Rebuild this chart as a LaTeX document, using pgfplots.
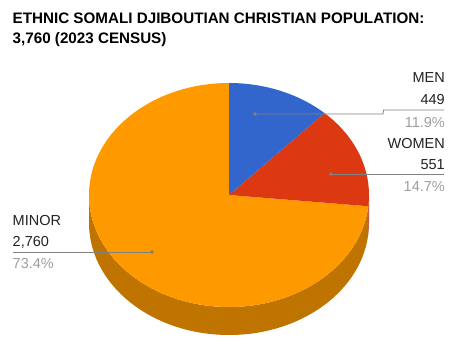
\documentclass[border=0pt]{standalone}
\usepackage{pgfplots}
\pgfplotsset{compat=1.18}
\usepackage{pgfplotstable}
\usepackage{fontspec}
\setmainfont{Liberation Sans}
\definecolor{cblue}{HTML}{3366CC}
\definecolor{cred}{HTML}{DC3912}
\definecolor{credside}{HTML}{A52B0E}
\definecolor{corange}{HTML}{FF9900}
\definecolor{corangeside}{HTML}{C07400}
\definecolor{ctext}{HTML}{222222}
\definecolor{cpct}{HTML}{9E9E9E}
\definecolor{cline}{HTML}{808080}
\pgfplotstableread{
label value
MEN 449
WOMEN 551
MINOR 2760
}\pietable
\tikzset{lbl/.style={font=\fontsize{14.5}{17}\selectfont,inner sep=0pt}}
\begin{document}
\begin{tikzpicture}
\pgfplotstablegetelem{0}{value}\of\pietable\pgfmathsetmacro\vA{\pgfplotsretval/1000}
\pgfplotstablegetelem{1}{value}\of\pietable\pgfmathsetmacro\vB{\pgfplotsretval/1000}
\pgfplotstablegetelem{2}{value}\of\pietable\pgfmathsetmacro\vC{\pgfplotsretval/1000}
\pgfmathsetmacro\tot{\vA+\vB+\vC}
\pgfmathsetmacro\fA{\vA/\tot}
\pgfmathsetmacro\fB{\vB/\tot}
\pgfmathsetmacro\aA{90-360*\fA}
\pgfmathsetmacro\aB{\aA-360*\fB}
\def\cx{229}\def\cy{195}
\begin{axis}[x=1pt,y=1pt,xmin=0,xmax=457,ymin=0,ymax=350,y dir=reverse,
  hide axis,clip=false]
\path (axis cs:0,0) rectangle (axis cs:457,350);
% side (depth)
\fill[corangeside] (axis cs:89,195) arc[start angle=-180,end angle=\aB,x radius=140pt,y radius=112pt]
  -- ++(0,-28pt) arc[start angle=\aB,end angle=-180,x radius=140pt,y radius=112pt] -- cycle;
\fill[credside] (axis cs:\cx,\cy) ++(\aB:140pt and 112pt) arc[start angle=\aB,end angle=0,x radius=140pt,y radius=112pt]
  -- ++(0,-28pt) arc[start angle=0,end angle=\aB,x radius=140pt,y radius=112pt] -- cycle;
% top
\fill[corange] (axis cs:\cx,\cy) -- +(\aB:140pt and 112pt) arc[start angle=\aB,end angle=-270,x radius=140pt,y radius=112pt] -- cycle;
\fill[cred] (axis cs:\cx,\cy) -- +(\aA:140pt and 112pt) arc[start angle=\aA,end angle=\aB,x radius=140pt,y radius=112pt] -- cycle;
\fill[cblue] (axis cs:\cx,\cy) -- +(90:140pt and 112pt) arc[start angle=90,end angle=\aA,x radius=140pt,y radius=112pt] -- cycle;
% leaders
\addplot[cline, line width=0.8pt, mark=none] coordinates {(255,114) (383,114) (383.5,110) (444,110)};
\addplot[cline, line width=0.8pt, mark=none] coordinates {(331,174) (444,174)};
\addplot[cline, line width=0.8pt, mark=none] coordinates {(13,252) (152,252)};
\addplot[cline, only marks, mark=*, mark size=1.7pt] coordinates {(255,114) (331,174) (152,252)};
% labels
\node[lbl,anchor=base east,text=ctext] at (axis cs:445,83) {MEN};
\node[lbl,anchor=base east,text=ctext] at (axis cs:445,104) {449};
\node[lbl,anchor=base east,text=cpct] at (axis cs:445,128) {11.9\%};
\node[lbl,anchor=base east,text=ctext] at (axis cs:445,148) {WOMEN};
\node[lbl,anchor=base east,text=ctext] at (axis cs:445,169) {551};
\node[lbl,anchor=base east,text=cpct] at (axis cs:445,191) {14.7\%};
\node[lbl,anchor=base west,text=ctext] at (axis cs:12.5,225) {MINOR};
\node[lbl,anchor=base west,text=ctext] at (axis cs:12.5,246) {2,760};
\node[lbl,anchor=base west,text=cpct] at (axis cs:12.5,268) {73.4\%};
% title
\node[anchor=base west,inner sep=0pt,text=black,font=\fontsize{15.2}{18}\selectfont\bfseries] at (axis cs:12.5,24) {ETHNIC SOMALI DJIBOUTIAN CHRISTIAN POPULATION:};
\node[anchor=base west,inner sep=0pt,text=black,font=\fontsize{15.2}{18}\selectfont\bfseries] at (axis cs:12.5,44) {3,760 (2023 CENSUS)};
\end{axis}
\end{tikzpicture}
\end{document}
